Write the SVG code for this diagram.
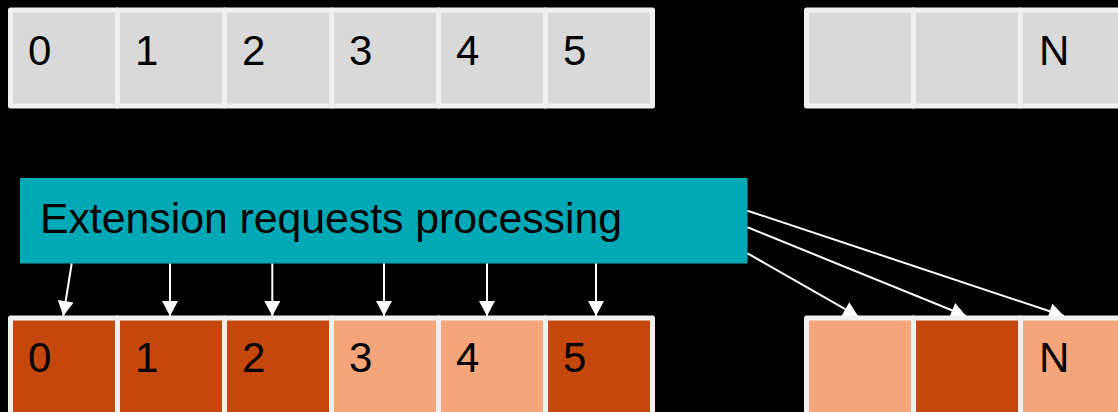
<svg xmlns="http://www.w3.org/2000/svg" width="1118" height="412" viewBox="0 0 1118 412">
  <style>
    .cell { stroke: #f0f0f0; stroke-width: 5; stroke-linejoin: round; }
    .grey { fill: #d9d9d9; }
    .dark { fill: #c4470d; }
    .light { fill: #f4a57a; }
    .num { font-family: "Liberation Sans", Arial, sans-serif; font-size: 42px; fill: #000; }
    .wire { stroke: #ffffff; stroke-width: 2; fill: none; marker-end: url(#head); }
  </style>
  <defs>
    <marker id="head" markerUnits="userSpaceOnUse" markerWidth="16" markerHeight="16" viewBox="0 0 14 15" refX="14" refY="7.5" orient="auto">
      <path d="M0,0 L14,7.5 L0,15 Z" fill="#ffffff"/>
    </marker>
  </defs>

  <rect width="1118" height="412" fill="#000"/>

  <!-- input slots -->
  <g id="in-0"><rect class="cell grey" x="10.5" y="10" width="107" height="96"/><text class="num" x="28" y="65">0</text></g>
  <g id="in-1"><rect class="cell grey" x="117.5" y="10" width="107" height="96"/><text class="num" x="135" y="65">1</text></g>
  <g id="in-2"><rect class="cell grey" x="224.5" y="10" width="107" height="96"/><text class="num" x="242" y="65">2</text></g>
  <g id="in-3"><rect class="cell grey" x="331.5" y="10" width="107" height="96"/><text class="num" x="349" y="65">3</text></g>
  <g id="in-4"><rect class="cell grey" x="438.5" y="10" width="107" height="96"/><text class="num" x="456" y="65">4</text></g>
  <g id="in-5"><rect class="cell grey" x="545.5" y="10" width="107" height="96"/><text class="num" x="563" y="65">5</text></g>
  <g id="in-a"><rect class="cell grey" x="806.5" y="10" width="107" height="96"/></g>
  <g id="in-b"><rect class="cell grey" x="913.5" y="10" width="107" height="96"/></g>
  <g id="in-n"><rect class="cell grey" x="1020.5" y="10" width="107" height="96"/><text class="num" x="1039" y="65">N</text></g>

  <!-- processing stage -->
  <g id="processor">
    <rect x="20" y="178" width="727.5" height="85.5" fill="#00a9b5"/>
    <text class="num" x="40" y="233" textLength="582" lengthAdjust="spacingAndGlyphs">Extension requests processing</text>
  </g>

  <!-- connectors (drawn beneath the output slots) -->
  <g id="connectors">
    <line class="wire" x1="71.7" y1="263.5" x2="63.3" y2="316"/>
    <line class="wire" x1="170" y1="263.5" x2="170" y2="316"/>
    <line class="wire" x1="272.3" y1="263.5" x2="272.3" y2="316"/>
    <line class="wire" x1="384" y1="263.5" x2="384" y2="316"/>
    <line class="wire" x1="487" y1="263.5" x2="487" y2="316"/>
    <line class="wire" x1="596" y1="263.5" x2="596" y2="316"/>
    <line class="wire" x1="747.5" y1="253.3" x2="858.3" y2="316.6"/>
    <line class="wire" x1="747.5" y1="227.3" x2="966" y2="316"/>
    <line class="wire" x1="747.5" y1="210.7" x2="1064" y2="316"/>
  </g>

  <!-- output slots -->
  <g id="out-0"><rect class="cell dark" x="10.5" y="318" width="107" height="107"/><text class="num" x="28" y="372">0</text></g>
  <g id="out-1"><rect class="cell dark" x="117.5" y="318" width="107" height="107"/><text class="num" x="135" y="372">1</text></g>
  <g id="out-2"><rect class="cell dark" x="224.5" y="318" width="107" height="107"/><text class="num" x="242" y="372">2</text></g>
  <g id="out-3"><rect class="cell light" x="331.5" y="318" width="107" height="107"/><text class="num" x="349" y="372">3</text></g>
  <g id="out-4"><rect class="cell light" x="438.5" y="318" width="107" height="107"/><text class="num" x="456" y="372">4</text></g>
  <g id="out-5"><rect class="cell dark" x="545.5" y="318" width="107" height="107"/><text class="num" x="563" y="372">5</text></g>
  <g id="out-a"><rect class="cell light" x="806.5" y="318" width="107" height="107"/></g>
  <g id="out-b"><rect class="cell dark" x="913.5" y="318" width="107" height="107"/></g>
  <g id="out-n"><rect class="cell light" x="1020.5" y="318" width="107" height="107"/><text class="num" x="1039" y="372">N</text></g>
</svg>
